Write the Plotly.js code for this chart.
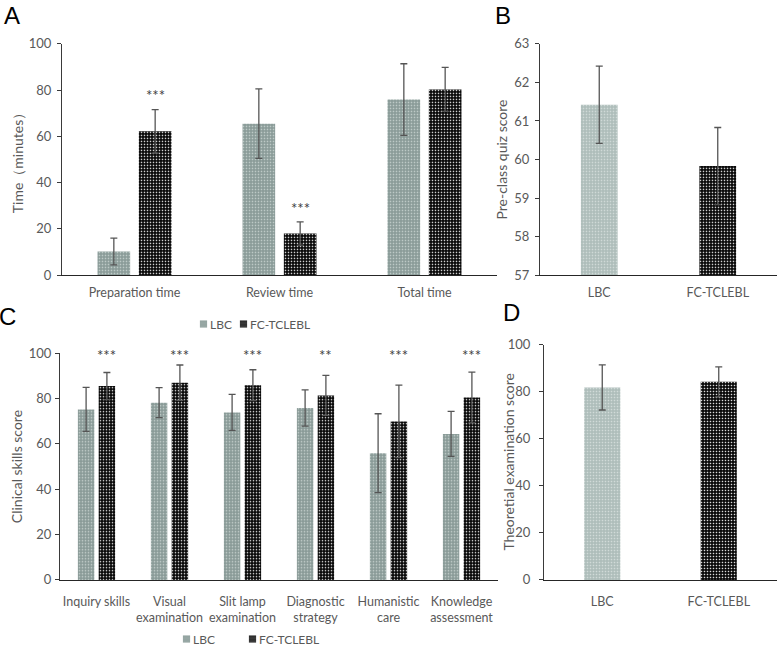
<!DOCTYPE html>
<html>
<head>
<meta charset="utf-8">
<script src="https://cdn.plot.ly/plotly-3.0.1.min.js"></script>
<style>html,body{margin:0;padding:0;background:#fff;}#chart{width:778px;height:649px;}</style>
</head>
<body>
<div id="chart"></div>
<script>
// ---------- data ----------
const groups = ['LBC', 'FC-TCLEBL'];

const catsA = ['Preparation time', 'Review time', 'Total time'];
const lbcA = [10.2, 65.5, 75.9];
const lbcAErr = [5.8, 15.0, 15.5];
const fcA = [62.2, 18.0, 80.3];
const fcAErr = [9.4, 5.0, 9.5];
const starsA = ['***', '***', ''];
const starYA = [78, 29, null];

const quizB = [61.42, 59.83];
const quizBErr = [1.0, 1.0];

const catsC = ['Inquiry skills', 'Visual<br>examination', 'Slit lamp<br>examination',
               'Diagnostic<br>strategy', 'Humanistic<br>care', 'Knowledge<br>assessment'];
const lbcC = [75.2, 78.2, 73.9, 75.8, 55.9, 64.4];
const lbcCErr = [9.7, 6.6, 7.9, 8.0, 17.4, 9.9];
const fcC = [85.5, 87.0, 85.9, 81.4, 69.9, 80.5];
const fcCErr = [6.0, 7.8, 6.8, 8.8, 16.0, 11.2];
const starsC = ['***', '***', '***', '**', '***', '***'];
const starYC = [99, 99, 99, 99, 99, 99];

const theoD = [81.9, 84.3];
const theoDErr = [9.6, 6.4];

// ---------- styles ----------
const FONT = 'Lato, "Open Sans", sans-serif';
const TXT = '#595959';
const lbcDark = '#8a9b98', lbcDarkDot = '#c3cecb';
const lbcLight = '#aebdba', lbcLightDot = '#d3dcda';
const fcBg = '#0a0a0a', fcDot = '#e8e8e8';
const pairW = 0.225, lbcOff = -0.255, fcOff = 0.03;
const singleW = 0.31;

function pat(bg, fg, size, sol) {
  return {shape: '.', bgcolor: bg, fgcolor: fg, size: size, solidity: sol, fillmode: 'replace'};
}
function err(arr) {
  return {type: 'data', array: arr, visible: true, color: '#555', thickness: 1.3, width: 3.5};
}

const traces = [];
// Panel A
traces.push({type: 'bar', name: groups[0], x: catsA, y: lbcA, error_y: err(lbcAErr),
  xaxis: 'x', yaxis: 'y', width: pairW, offset: lbcOff, legend: 'legend',
  marker: {color: lbcDark, line: {width: 0}, pattern: pat(lbcDark, lbcDarkDot, 3, 0.25)}});
traces.push({type: 'bar', name: groups[1], x: catsA, y: fcA, error_y: err(fcAErr),
  xaxis: 'x', yaxis: 'y', width: pairW, offset: fcOff, legend: 'legend',
  marker: {color: fcBg, line: {width: 0}, pattern: pat(fcBg, fcDot, 3, 0.22)}});
// Panel B
traces.push({type: 'bar', name: groups[0], x: [groups[0]], y: [quizB[0]], error_y: err([quizBErr[0]]),
  xaxis: 'x2', yaxis: 'y2', width: singleW, showlegend: false,
  marker: {color: lbcLight, line: {width: 0}, pattern: pat(lbcLight, lbcLightDot, 3, 0.25)}});
traces.push({type: 'bar', name: groups[1], x: [groups[1]], y: [quizB[1]], error_y: err([quizBErr[1]]),
  xaxis: 'x2', yaxis: 'y2', width: singleW, showlegend: false,
  marker: {color: fcBg, line: {width: 0}, pattern: pat(fcBg, fcDot, 3, 0.22)}});
// Panel C
traces.push({type: 'bar', name: groups[0], x: catsC, y: lbcC, error_y: err(lbcCErr),
  xaxis: 'x3', yaxis: 'y3', width: pairW, offset: lbcOff, legend: 'legend2',
  marker: {color: lbcDark, line: {width: 0}, pattern: pat(lbcDark, lbcDarkDot, 3, 0.25)}});
traces.push({type: 'bar', name: groups[1], x: catsC, y: fcC, error_y: err(fcCErr),
  xaxis: 'x3', yaxis: 'y3', width: pairW, offset: fcOff, legend: 'legend2',
  marker: {color: fcBg, line: {width: 0}, pattern: pat(fcBg, fcDot, 3, 0.22)}});
// Panel D
traces.push({type: 'bar', name: groups[0], x: [groups[0]], y: [theoD[0]], error_y: err([theoDErr[0]]),
  xaxis: 'x4', yaxis: 'y4', width: singleW, showlegend: false,
  marker: {color: lbcLight, line: {width: 0}, pattern: pat(lbcLight, lbcLightDot, 3, 0.25)}});
traces.push({type: 'bar', name: groups[1], x: [groups[1]], y: [theoD[1]], error_y: err([theoDErr[1]]),
  xaxis: 'x4', yaxis: 'y4', width: singleW, showlegend: false,
  marker: {color: fcBg, line: {width: 0}, pattern: pat(fcBg, fcDot, 3, 0.22)}});

const W = 778, H = 649;
const px = (a, b) => [a / W, b / W];
const py = (bottom, top) => [1 - bottom / H, 1 - top / H];

function xax(dom, anchor, tl) {
  return {domain: dom, anchor: anchor, type: 'category', showgrid: false, zeroline: false,
    showline: true, linecolor: '#262626', linewidth: 1.3, ticks: 'outside', ticklen: tl,
    tickcolor: 'rgba(0,0,0,0)', automargin: false, fixedrange: true,
    tickfont: {family: FONT, size: 12.5, color: TXT}};
}
function yax(dom, anchor, range, dtick, title, standoff, labStand) {
  return {domain: dom, anchor: anchor, range: range, dtick: dtick, showgrid: false, zeroline: false,
    showline: true, linecolor: '#3a3a3a', linewidth: 1.1, ticks: 'outside', ticklen: 4,
    tickcolor: '#3a3a3a', automargin: false, fixedrange: true, ticklabelstandoff: labStand,
    tickfont: {family: FONT, size: 13, color: TXT},
    title: {text: title, standoff: standoff, font: {family: FONT, size: 14, color: TXT}}};
}

const annotations = [];
const letter = (t, x, yTop) => annotations.push({text: t, xref: 'paper', yref: 'paper', x: x / W, y: 1 - yTop / H,
  showarrow: false, xanchor: 'center', yanchor: 'top', font: {family: '"Liberation Sans", Arial, sans-serif', size: 24, color: '#000'}});
letter('A', 12, 0);
letter('B', 503, 0);
letter('C', 8, 302);
letter('D', 511, 298);

// Panel D axis title drawn close to the axis, as in the reference
annotations.push({text: 'Theoretial examination score', xref: 'paper', yref: 'paper', x: 509 / W, y: 1 - 464 / H,
  textangle: -90, showarrow: false, xanchor: 'center', yanchor: 'middle', font: {family: FONT, size: 14, color: TXT}});

const fcCenter = fcOff + pairW / 2;
const starFont = {family: FONT, size: 15, color: '#404040'};
starsA.forEach((s, i) => { if (s) annotations.push({text: s, xref: 'x', yref: 'y', x: i + fcCenter, y: starYA[i],
  showarrow: false, font: starFont}); });
starsC.forEach((s, i) => { annotations.push({text: s, xref: 'x3', yref: 'y3', x: i + fcCenter, y: starYC[i],
  showarrow: false, font: starFont}); });

const layout = {
  width: W, height: H, margin: {l: 0, r: 0, t: 0, b: 0},
  paper_bgcolor: '#fff', plot_bgcolor: '#fff', barmode: 'overlay',
  font: {family: FONT, size: 12, color: TXT},
  xaxis: xax(px(62, 497), 'y', 6),
  yaxis: yax(py(276, 44), 'x', [0, 100], 20, 'Time（minutes）', 1, 3),
  xaxis2: xax(px(540, 777), 'y2', 6),
  yaxis2: yax(py(276, 44), 'x2', [57, 63], 1, 'Pre-class quiz score', 3, 3),
  xaxis3: xax(px(60, 498), 'y3', 10),
  yaxis3: yax(py(581.7, 354.3), 'x3', [0, 100], 20, 'Clinical skills score', 2, 1),
  xaxis4: xax(px(544, 777), 'y4', 10),
  yaxis4: yax(py(581.7, 346), 'x4', [0, 100], 20, '', 2, 6),
  legend: {orientation: 'h', x: 190 / W, y: 1 - 324 / H, xanchor: 'left', yanchor: 'middle',
    font: {family: FONT, size: 12, color: TXT}, bgcolor: 'rgba(0,0,0,0)', itemwidth: 30},
  legend2: {orientation: 'h', x: 173 / W, y: 1 - 636 / H, xanchor: 'left', yanchor: 'middle',
    font: {family: FONT, size: 12, color: TXT}, bgcolor: 'rgba(0,0,0,0)', itemwidth: 30},
  annotations: annotations,
  showlegend: true
};

function parseT(el) {
  const t = (el.getAttribute && el.getAttribute('transform')) || '';
  const m = t.match(/translate\(\s*([-\d.e]+)(?:[ ,]+([-\d.e]+))?/);
  return m ? [parseFloat(m[1]), parseFloat(m[2] || 0)] : [0, 0];
}
function ancestorOffset(el) {
  let x = 0, y = 0, p = el.parentNode;
  while (p && p.nodeName && p.nodeName.toLowerCase() !== 'svg') {
    const [a, b] = parseT(p); x += a; y += b; p = p.parentNode;
  }
  return [x, y];
}

// compact legend entries: small swatch right before the label, labels where the reference has them
function compactLegend(cls, textLefts, textCy) {
  const lg = document.querySelector('#chart g.' + cls);
  if (!lg) return;
  lg.querySelectorAll('[clip-path]').forEach(e => e.removeAttribute('clip-path'));
  const items = Array.from(lg.querySelectorAll('g.traces'));
  items.forEach((it, i) => {
    const txt = it.querySelector('text.legendtext');
    const sym = it.querySelector('g.layers') || it.querySelector('g.legendsymbols');
    let tx = 40;
    if (txt) { const v = parseFloat(txt.getAttribute('x')); if (isFinite(v)) tx = v; }
    if (sym) {
      const bb = sym.getBBox();
      const cx = bb.x + bb.width / 2, cy = bb.y + bb.height / 2;
      sym.setAttribute('transform', 'translate(' + (tx - 6.5) + ',' + cy + ') scale(0.6) translate(' + (-cx) + ',' + (-cy) + ')');
    }
    if (textLefts[i] !== undefined) {
      const [ax, ay] = ancestorOffset(it);
      it.setAttribute('transform', 'translate(' + (textLefts[i] - tx - ax) + ',' + (textCy - ay) + ')');
    }
  });
}
function tweak() {
  try { compactLegend('legend', [210, 250], 324); } catch (e) {}
  try { compactLegend('legend2', [193, 259], 639); } catch (e) {}
}

Plotly.newPlot('chart', traces, layout, {displayModeBar: false, staticPlot: true}).then(() => {
  tweak();
  requestAnimationFrame(tweak);
  setTimeout(tweak, 30);
  setTimeout(tweak, 200);
});
</script>
</body>
</html>
